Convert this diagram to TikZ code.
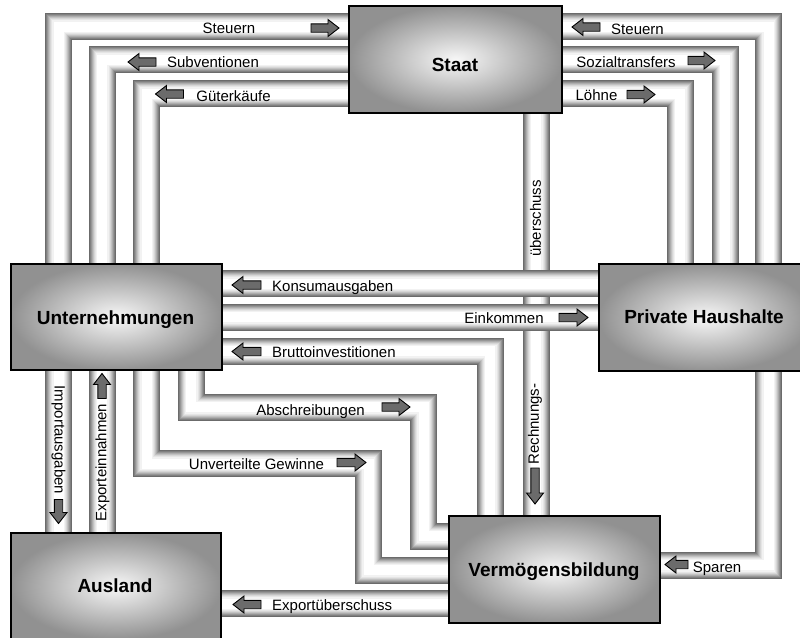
\documentclass[tikz,border=0pt]{standalone}
\usepackage{fontspec}
\setmainfont{Liberation Sans}
\definecolor{pipeA}{gray}{0.42}
\definecolor{pipeB}{gray}{0.50}
\definecolor{pipeC}{gray}{0.59}
\definecolor{pipeD}{gray}{0.68}
\definecolor{pipeE}{gray}{0.76}
\definecolor{pipeF}{gray}{0.84}
\definecolor{pipeG}{gray}{0.90}
\definecolor{pipeH}{gray}{0.95}
\definecolor{boxin}{gray}{0.97}
\definecolor{boxout}{gray}{0.57}
\definecolor{arrowgray}{gray}{0.42}
\pgfdeclarelayer{bg}
\pgfdeclarelayer{pipes}
\pgfsetlayers{bg,pipes,main}
\begin{document}
\begin{tikzpicture}[x=1pt,y=-1pt,
  pipe/.style={line join=miter,
    preaction={draw=pipeA,line width=27pt,line join=miter},
    preaction={draw=pipeB,line width=25pt,line join=miter},
    preaction={draw=pipeC,line width=23pt,line join=miter},
    preaction={draw=pipeD,line width=21pt,line join=miter},
    preaction={draw=pipeE,line width=19pt,line join=miter},
    preaction={draw=pipeF,line width=17pt,line join=miter},
    preaction={draw=pipeG,line width=15pt,line join=miter},
    preaction={draw=pipeH,line width=13pt,line join=miter},
    draw=white,line width=10pt},
  box/.style={draw=black,line width=1.2pt,inner color=boxin,outer color=boxout,inner sep=0pt},
  lbl/.style={font=\fontsize{15}{18}\selectfont,inner sep=0pt,text height=10.7pt,text depth=0pt},
  title/.style={font=\fontsize{19}{22}\selectfont\bfseries,inner sep=0pt,text height=13.6pt,text depth=0pt},
  arrowfill/.style={draw=black,line width=0.9pt,fill=arrowgray,line join=miter},
  pics/flowarrow/.style={code={
    \draw[arrowfill] (-#1/2,-4.2) -- (#1/2-11,-4.2) -- (#1/2-11,-8.5) -- (#1/2,0)
      -- (#1/2-11,8.5) -- (#1/2-11,4.2) -- (-#1/2,4.2) -- cycle;}},
  pics/flowarrow/.default=28]

\useasboundingbox (0,0) rectangle (800,637);
\begin{pgfonlayer}{bg}
  \fill[white] (0,0) rectangle (800,637);
\end{pgfonlayer}

% sectors
\node[box,minimum width=213pt,minimum height=107pt] (staat) at (455.5,59.5) {};
\node[box,minimum width=211pt,minimum height=106pt] (unt) at (116.5,317) {};
\node[box,minimum width=213pt,minimum height=107pt] (hh) at (705.5,317.5) {};
\node[box,minimum width=210pt,minimum height=106pt] (ausl) at (116,586) {};
\node[box,minimum width=211pt,minimum height=107pt] (verm) at (554.5,569.5) {};

\node[title] (tStaat) at (455,64.5) {Staat};
\node[title] (tUnt) at (115.5,317.5) {Unternehmungen};
\node[title] (tHH) at (704,316.5) {Private Haushalte};
\node[title] (tAusl) at (115,585.5) {Ausland};
\node[title] (tVerm) at (554,569.5) {Vermögensbildung};

% flows
\begin{pgfonlayer}{pipes}
  \draw[pipe] (536,0 |- staat.south) -- (536,0 |- verm.north);
  \draw[pipe] (staat.west |- 0,26.5) -- (58.5,26.5) -- (58.5,0 |- unt.north);
  \draw[pipe] (staat.west |- 0,59.5) -- (102,59.5) -- (102,0 |- unt.north);
  \draw[pipe] (staat.west |- 0,93.5) -- (146.5,93.5) -- (146.5,0 |- unt.north);
  \draw[pipe] (staat.east |- 0,26.5) -- (768.5,26.5) -- (768.5,0 |- hh.north);
  \draw[pipe] (staat.east |- 0,59.5) -- (725,59.5) -- (725,0 |- hh.north);
  \draw[pipe] (staat.east |- 0,93.5) -- (680,93.5) -- (680,0 |- hh.north);
  \draw[pipe] (unt.east |- 0,283.5) -- (hh.west |- 0,283.5);
  \draw[pipe] (unt.east |- 0,317) -- (hh.west |- 0,317);
  \draw[pipe] (unt.east |- 0,351) -- (490,351) -- (490,0 |- verm.north);
  \draw[pipe] (191,0 |- unt.south) -- (191,407) -- (423.5,407) -- (423.5,536) -- (verm.west |- 0,536);
  \draw[pipe] (146.5,0 |- unt.south) -- (146.5,463.5) -- (368.5,463.5) -- (368.5,570) -- (verm.west |- 0,570);
  \draw[pipe] (verm.west |- 0,603.5) -- (ausl.east |- 0,603.5);
  \draw[pipe] (58.5,0 |- unt.south) -- (58.5,0 |- ausl.north);
  \draw[pipe] (102,0 |- unt.south) -- (102,0 |- ausl.north);
  \draw[pipe] (768.5,0 |- hh.south) -- (768.5,565) -- (verm.east |- 0,565);
\end{pgfonlayer}

% direction markers
\pic at (325,28) {flowarrow};
\pic[rotate=180] at (142,62) {flowarrow};
\pic[rotate=180] at (169.5,94) {flowarrow};
\pic[rotate=180] at (586,27) {flowarrow};
\pic at (701.5,60.5) {flowarrow=27};
\pic at (641,94.5) {flowarrow};
\pic[rotate=180] at (246.5,285) {flowarrow=29};
\pic at (573.5,317.5) {flowarrow=29};
\pic[rotate=180] at (246.5,351.5) {flowarrow=29};
\pic at (396,407) {flowarrow};
\pic at (351.5,462.5) {flowarrow=29};
\pic[rotate=180] at (247,604.5) {flowarrow};
\pic[rotate=180] at (676.5,564.5) {flowarrow=23};
\pic[rotate=-90] at (535,486) {flowarrow=36};
\pic[rotate=-90] at (58.5,511.5) {flowarrow=24};
\pic[rotate=90] at (102,386) {flowarrow=25};

% flow labels
\node[lbl] (lSteuernL) at (229,28) {Steuern};
\node[lbl] (lSubv) at (213,62.5) {Subventionen};
\node[lbl] (lGueter) at (233.5,96) {Güterkäufe};
\node[lbl] (lSteuernR) at (637.5,29) {Steuern};
\node[lbl] (lSozial) at (626,62) {Sozialtransfers};
\node[lbl] (lLoehne) at (596.5,95.5) {Löhne};
\node[lbl,rotate=90] (lUeber) at (535.5,218.5) {überschuss};
\node[lbl,rotate=90] (lRechn) at (533.5,424) {Rechnungs-};
\node[lbl,anchor=west] (lKonsum) at (272,286) {Konsumausgaben};
\node[lbl] (lEink) at (504,318.5) {Einkommen};
\node[lbl,anchor=west] (lBrutto) at (272,352.5) {Bruttoinvestitionen};
\node[lbl] (lAbschr) at (310.5,410) {Abschreibungen};
\node[lbl] (lUnvert) at (256.5,464.5) {Unverteilte Gewinne};
\node[lbl,anchor=west] (lExpUe) at (272,605.5) {Exportüberschuss};
\node[lbl,rotate=-90] (lImport) at (60,440) {Importausgaben};
\node[lbl,rotate=90] (lExpEin) at (101,462.5) {Exporteinnahmen};
\node[lbl] (lSparen) at (717,567) {Sparen};
\end{tikzpicture}
\end{document}
